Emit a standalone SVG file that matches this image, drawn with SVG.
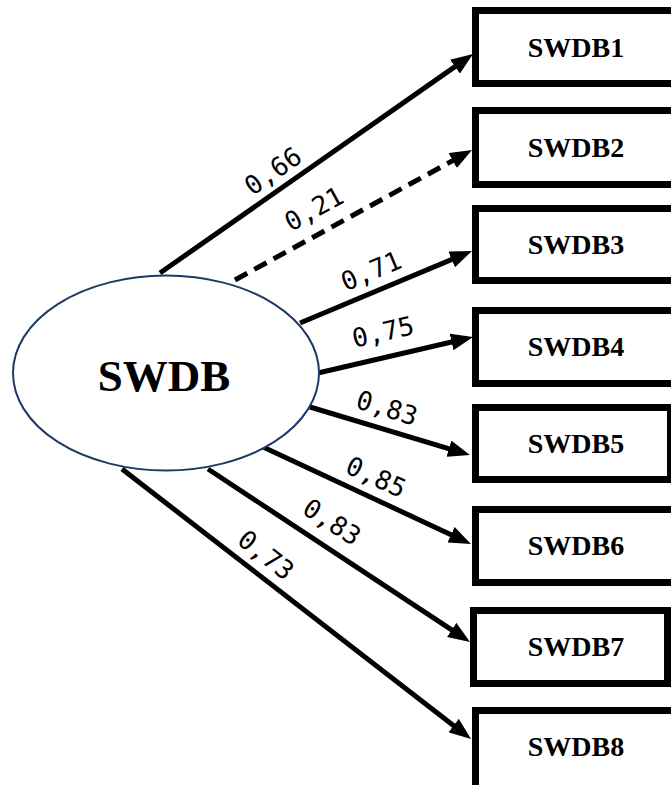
<svg xmlns="http://www.w3.org/2000/svg" width="671" height="785" viewBox="0 0 671 785">
<style>
.box{fill:#fff;stroke:#000;stroke-width:7}
.bt{font-family:"Liberation Serif","Times New Roman",serif;font-weight:bold;font-size:28px;text-anchor:middle;fill:#000}
.lt{font-family:"DejaVu Sans Mono","Liberation Mono",monospace;font-size:26px;text-anchor:middle;dominant-baseline:central;fill:#000}
.c{stroke:#000;stroke-width:5;fill:none;marker-end:url(#ah)}
</style>
<defs>
<marker id="ah" markerUnits="userSpaceOnUse" viewBox="0 0 22 17" markerWidth="22" markerHeight="17" refX="10" refY="8.5" orient="auto">
<path d="M0,0 L22,8.5 L0,17 z" fill="#000"/>
</marker>
</defs>
<rect width="671" height="785" fill="#fff"/>
<g id="connectors">
<line class="c" x1="160" y1="273" x2="463.2" y2="60.9"/>
<line class="c" x1="235" y1="280" x2="461.5" y2="155.8" stroke-dasharray="14 8"/>
<line class="c" x1="300" y1="323" x2="460.9" y2="255.6"/>
<line class="c" x1="318" y1="373" x2="461.3" y2="339.7"/>
<line class="c" x1="310" y1="407" x2="458.5" y2="451.6"/>
<line class="c" x1="263" y1="447" x2="460.1" y2="538.9"/>
<line class="c" x1="208" y1="469" x2="460" y2="635.4"/>
<line class="c" x1="122" y1="469" x2="461.5" y2="731.7"/>
<text class="lt" transform="translate(273,171) rotate(-35)">0,66</text>
<text class="lt" transform="translate(314,209) rotate(-29)">0,21</text>
<text class="lt" transform="translate(371,271) rotate(-23)">0,71</text>
<text class="lt" transform="translate(383,332) rotate(-13)">0,75</text>
<text class="lt" transform="translate(387,408) rotate(17)">0,83</text>
<text class="lt" transform="translate(376,477) rotate(25)">0,85</text>
<text class="lt" transform="translate(332,522) rotate(33)">0,83</text>
<text class="lt" transform="translate(266,555) rotate(38)">0,73</text>
</g>
<g id="SWDB">
<ellipse cx="166" cy="373" rx="153" ry="97.5" fill="#fff" stroke="#1f3864" stroke-width="2"/>
<text x="164" y="391" font-family="Liberation Serif,Times New Roman,serif" font-weight="bold" font-size="45" text-anchor="middle">SWDB</text>
</g>
<g id="SWDB1"><rect class="box" x="475.5" y="10.5" width="205" height="73"/><text class="bt" x="576" y="57">SWDB1</text></g>
<g id="SWDB2"><rect class="box" x="475.5" y="110.5" width="205" height="74"/><text class="bt" x="576" y="157">SWDB2</text></g>
<g id="SWDB3"><rect class="box" x="475.5" y="208.5" width="205" height="72"/><text class="bt" x="576" y="254">SWDB3</text></g>
<g id="SWDB4"><rect class="box" x="475.5" y="310.5" width="205" height="73"/><text class="bt" x="576" y="356">SWDB4</text></g>
<g id="SWDB5"><rect class="box" x="475.5" y="407.5" width="195" height="72"/><text class="bt" x="576" y="453">SWDB5</text></g>
<g id="SWDB6"><rect class="box" x="475.5" y="509.5" width="205" height="73"/><text class="bt" x="576" y="555">SWDB6</text></g>
<g id="SWDB7"><rect class="box" x="473.5" y="610.5" width="194" height="73"/><text class="bt" x="576" y="656">SWDB7</text></g>
<g id="SWDB8"><rect class="box" x="475.5" y="710.5" width="205" height="80"/><text class="bt" x="576" y="756">SWDB8</text></g>
</svg>
